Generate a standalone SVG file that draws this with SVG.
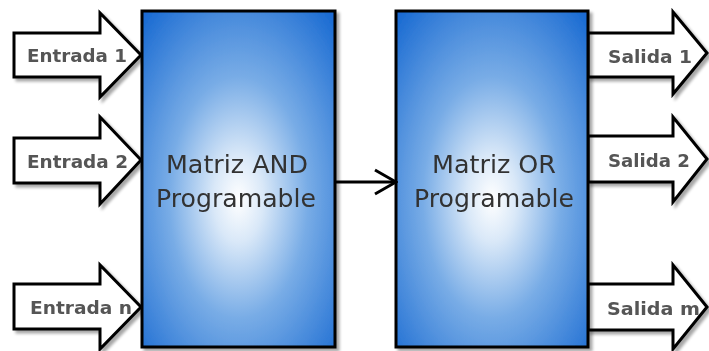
<svg xmlns="http://www.w3.org/2000/svg" width="709" height="351" viewBox="0 0 709 351">
  <defs>
    <radialGradient id="boxFill" cx="0.5" cy="0.55" r="0.72" fx="0.5" fy="0.56">
      <stop offset="0" stop-color="#ffffff"/>
      <stop offset="0.18" stop-color="#d9e8f8"/>
      <stop offset="0.5" stop-color="#78ace6"/>
      <stop offset="1" stop-color="#1a6bd2"/>
    </radialGradient>
    <filter id="shadow" x="-10%" y="-10%" width="130%" height="130%">
      <feGaussianBlur in="SourceAlpha" stdDeviation="1.5"/>
      <feOffset dx="3" dy="3" result="off"/>
      <feComponentTransfer><feFuncA type="linear" slope="0.35"/></feComponentTransfer>
      <feMerge><feMergeNode/><feMergeNode in="SourceGraphic"/></feMerge>
    </filter>
    <marker id="openHead" viewBox="0 0 24 28" refX="22" refY="14" markerWidth="24" markerHeight="28" markerUnits="userSpaceOnUse" orient="auto">
      <path d="M1,2 L22,14 L1,26" fill="none" stroke="#000" stroke-width="3"/>
    </marker>
    <style>
      .arrow { fill: #ffffff; stroke: #000; stroke-width: 3; stroke-linejoin: miter; }
      .box { fill: url(#boxFill); stroke: #000; stroke-width: 3; }
      .lbl { font-family: "DejaVu Sans", Verdana, sans-serif; font-weight: bold; font-size: 17px; fill: #555; }
      .title { font-family: "DejaVu Sans", Verdana, sans-serif; font-size: 24px; fill: #333; text-anchor: middle; }
      .conn { fill: none; stroke: #000; stroke-width: 3; }
    </style>
  </defs>

  <!-- input arrows -->
  <g id="entrada1" filter="url(#shadow)">
    <polygon class="arrow" points="14,33 100,33 100,13 141,55 100,97 100,77 14,77"/>
    <text class="lbl" x="27" y="62" textLength="100" lengthAdjust="spacingAndGlyphs">Entrada 1</text>
  </g>
  <g id="entrada2" filter="url(#shadow)">
    <polygon class="arrow" points="14,138 100,138 100,117 141,160 100,204 100,183 14,183"/>
    <text class="lbl" x="27" y="168" textLength="101" lengthAdjust="spacingAndGlyphs">Entrada 2</text>
  </g>
  <g id="entradaN" filter="url(#shadow)">
    <polygon class="arrow" points="14,284 100,284 100,265 141,307 100,349 100,329 14,329"/>
    <text class="lbl" x="30" y="314" textLength="102" lengthAdjust="spacingAndGlyphs">Entrada n</text>
  </g>

  <!-- output arrows -->
  <g id="salida1" filter="url(#shadow)">
    <polygon class="arrow" points="588,33 673,33 673,12 707,53 673,94 673,77 588,77"/>
    <text class="lbl" x="608" y="63" textLength="84" lengthAdjust="spacingAndGlyphs">Salida 1</text>
  </g>
  <g id="salida2" filter="url(#shadow)">
    <polygon class="arrow" points="588,136 673,136 673,117 707,159 673,202 673,182 588,182"/>
    <text class="lbl" x="608" y="167" textLength="82" lengthAdjust="spacingAndGlyphs">Salida 2</text>
  </g>
  <g id="salidaM" filter="url(#shadow)">
    <polygon class="arrow" points="588,284 673,284 673,265 707,307 673,349 673,330 588,330"/>
    <text class="lbl" x="607" y="315" textLength="93" lengthAdjust="spacingAndGlyphs">Salida m</text>
  </g>

  <!-- programmable arrays -->
  <g id="matrizAND" filter="url(#shadow)">
    <rect class="box" x="142" y="11" width="193" height="336"/>
    <text class="title" x="237" y="173" textLength="142" lengthAdjust="spacingAndGlyphs">Matriz AND</text>
    <text class="title" x="236" y="207" textLength="160" lengthAdjust="spacingAndGlyphs">Programable</text>
  </g>
  <g id="matrizOR" filter="url(#shadow)">
    <rect class="box" x="396" y="11" width="192" height="336"/>
    <text class="title" x="494" y="173" textLength="124" lengthAdjust="spacingAndGlyphs">Matriz OR</text>
    <text class="title" x="494" y="207" textLength="160" lengthAdjust="spacingAndGlyphs">Programable</text>
  </g>

  <!-- connectors -->
  <g id="connectors">
    <line class="conn" x1="336" y1="182" x2="396" y2="182" marker-end="url(#openHead)"/>
  </g>
</svg>
